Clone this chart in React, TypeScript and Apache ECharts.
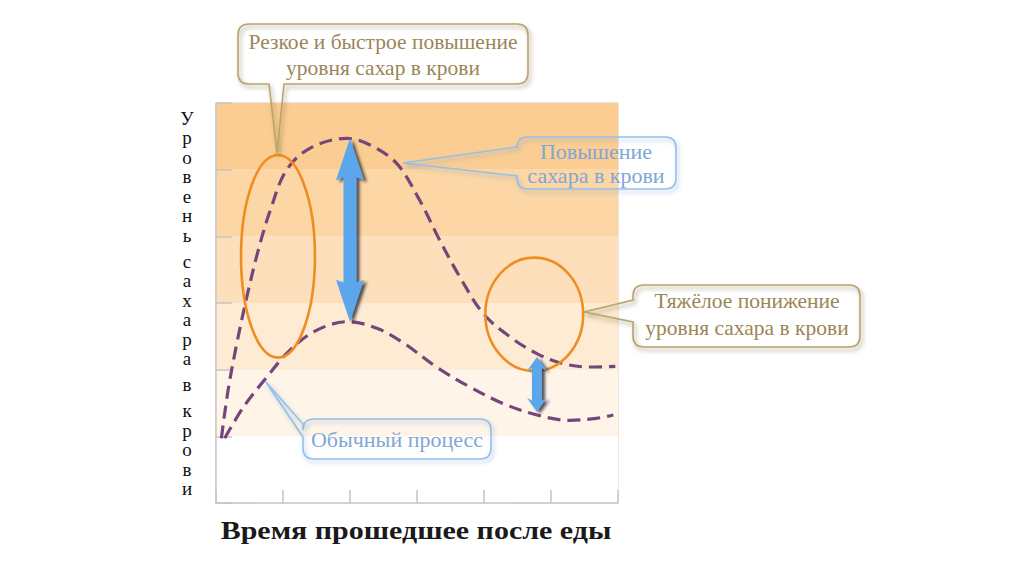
import React, { useEffect, useRef } from "react";
import * as echarts from "echarts";

// ---- data ----
const bandColors = ["#ffffff", "#fef4e7", "#fdebd3", "#fde0bb", "#fcd6a5", "#fbcd92"];
const fastX = [0.08, 0.18, 0.31, 0.46, 0.63, 0.81, 1.05, 1.4, 1.95, 2.3, 2.7, 3.04, 3.34, 3.64, 3.99, 4.39, 4.79, 5.18, 5.58, 5.96];
const fastY = [0.97, 1.69, 2.39, 3.09, 3.79, 4.39, 4.99, 5.32, 5.47, 5.37, 5.09, 4.54, 3.94, 3.39, 2.84, 2.49, 2.24, 2.09, 2.04, 2.05];
const normalX = [0.13, 0.41, 0.76, 1.1, 1.5, 1.97, 2.4, 2.8, 3.29, 3.79, 4.29, 4.79, 5.28, 5.68, 5.93];
const normalY = [0.97, 1.44, 1.89, 2.29, 2.59, 2.72, 2.62, 2.4, 2.04, 1.74, 1.49, 1.32, 1.24, 1.27, 1.32];
// ellipse: [cx, cy, rx, ry] in data units
const ellipses = [
  [0.925, 3.7, 0.552, 1.52],
  [4.75, 2.83, 0.73, 0.85],
];
// arrows: [x, yTop, yBottom]
const arrows = [
  [2.0, 5.47, 2.72],
  [4.79, 2.19, 1.37],
];
const arrowSizes = [
  { head: 42, headW: 28, shaft: 13 },
  { head: 14, headW: 20, shaft: 10 },
];
const yTitle = "Уровень сахара в крови";
const xTitle = "Время прошедшее после еды";
const calloutTexts = [
  "Резкое и быстрое повышение\nуровня сахар в крови",
  "Повышение\nсахара в крови",
  "Тяжёлое понижение\nуровня сахара в крови",
  "Обычный процесс",
];

// ---- callout shapes ----
function calloutPath(x: number, y: number, w: number, h: number, r: number, side: string, a: number, b: number, tx: number, ty: number) {
  const R = x + w, B = y + h;
  let d = `M${x + r} ${y}`;
  d += ` L${R - r} ${y} Q${R} ${y} ${R} ${y + r}`;
  d += ` L${R} ${B - r} Q${R} ${B} ${R - r} ${B}`;
  if (side === "bottom") d += ` L${b} ${B} L${tx} ${ty} L${a} ${B}`;
  d += ` L${x + r} ${B} Q${x} ${B} ${x} ${B - r}`;
  if (side === "left") d += ` L${x} ${b} L${tx} ${ty} L${x} ${a}`;
  d += ` L${x} ${y + r} Q${x} ${y} ${x + r} ${y} Z`;
  return d;
}
echarts.graphic.registerShape("callout1", echarts.graphic.extendPath(calloutPath(238, 24, 290, 60, 11, "bottom", 269, 284, 277, 153), {}));
echarts.graphic.registerShape("callout2", echarts.graphic.extendPath(calloutPath(517, 137, 159, 52, 11, "left", 147, 176, 403, 163), {}));
echarts.graphic.registerShape("callout3", echarts.graphic.extendPath(calloutPath(633, 285, 227, 62, 11, "left", 300, 322, 584, 312), {}));
echarts.graphic.registerShape("callout4", echarts.graphic.extendPath(calloutPath(303, 419, 188, 40, 11, "left", 424, 437, 266, 382), {}));

const serif = "Liberation Serif";

export default function App() {
  const ref = useRef<HTMLDivElement>(null);
  useEffect(() => {
    if (!ref.current) return;
    const chart = echarts.init(ref.current, undefined, { renderer: "svg" });

    const gold = { stroke: "#b9a46e", text: "#9a8656", shadow: "rgba(110,90,50,0.55)" };
    const blue = { stroke: "#94c0ea", text: "#7fa7d4", shadow: "rgba(90,140,200,0.45)" };
    const calloutStyle = (c: any) => ({
      fill: "none",
      stroke: c.stroke,
      lineWidth: 1.6,
      shadowBlur: 4,
      shadowOffsetX: 2,
      shadowOffsetY: 3,
      shadowColor: c.shadow,
    });

    // vertical y-title letters
    const letters: any[] = [];
    let ly = 118;
    for (const ch of yTitle) {
      if (ch === " ") { ly += 6.5; continue; }
      letters.push({
        type: "text",
        x: 187,
        y: ly,
        style: { text: ch, align: "center", verticalAlign: "middle", fontFamily: serif, fontSize: 19, fill: "#111111" },
      });
      ly += 19.5;
    }

    const textEl = (t: string, x: number, y: number, color: string, lh: number, fs: number) => ({
      type: "text",
      x,
      y,
      z: 100,
      style: { text: t, align: "center", verticalAlign: "middle", fontFamily: serif, fontSize: fs, lineHeight: lh, fill: color },
    });

    chart.setOption({
      animation: false,
      backgroundColor: "#ffffff",
      grid: { left: 216, right: 406, top: 103, bottom: 71, show: true, borderColor: "#cfcfcf", borderWidth: 1, backgroundColor: "transparent" },
      xAxis: {
        type: "value",
        min: 0,
        max: 6,
        interval: 1,
        axisLine: { show: true, lineStyle: { color: "#c8c8c8", width: 1.5 } },
        axisTick: { show: true, inside: true, length: 13, lineStyle: { color: "#c4c4c4", width: 1.5 } },
        axisLabel: { show: false },
        splitLine: { show: false },
      },
      yAxis: {
        type: "value",
        min: 0,
        max: 6,
        interval: 1,
        axisLine: { show: true, lineStyle: { color: "#c8c8c8", width: 1.5 } },
        axisTick: { show: true, inside: true, length: 16, lineStyle: { color: "#c4c4c4", width: 1.5 } },
        axisLabel: { show: false },
        splitLine: { show: false },
        splitArea: { show: true, areaStyle: { color: bandColors } },
      },
      series: [
        {
          type: "line",
          data: fastX.map((x, i) => [x, fastY[i]]),
          smooth: 0.35,
          symbol: "none",
          z: 3,
          lineStyle: { color: "#74477c", width: 3.2, type: [13, 7] },
        },
        {
          type: "line",
          data: normalX.map((x, i) => [x, normalY[i]]),
          smooth: 0.35,
          symbol: "none",
          z: 3,
          lineStyle: { color: "#74477c", width: 3.2, type: [13, 7] },
        },
        {
          type: "custom",
          z: 4,
          data: ellipses,
          renderItem: (params: any, api: any) => {
            const c = api.coord([api.value(0), api.value(1)]);
            const s = api.size([api.value(2), api.value(3)]);
            return {
              type: "ellipse",
              shape: { cx: c[0], cy: c[1], rx: s[0], ry: s[1] },
              style: { fill: "none", stroke: "#f08d22", lineWidth: 2.6 },
            };
          },
        },
        {
          type: "custom",
          z: 5,
          data: arrows,
          renderItem: (params: any, api: any) => {
            const p1 = api.coord([api.value(0), api.value(1)]);
            const p2 = api.coord([api.value(0), api.value(2)]);
            const sz = arrowSizes[params.dataIndex];
            const cx = p1[0], y1 = p1[1], y2 = p2[1];
            const hw = sz.headW / 2, sw = sz.shaft / 2, hl = sz.head;
            return {
              type: "polygon",
              shape: {
                points: [
                  [cx, y1], [cx + hw, y1 + hl], [cx + sw, y1 + hl - 3], [cx + sw, y2 - hl + 3], [cx + hw, y2 - hl],
                  [cx, y2], [cx - hw, y2 - hl], [cx - sw, y2 - hl + 3], [cx - sw, y1 + hl - 3], [cx - hw, y1 + hl],
                ],
              },
              style: { fill: "#5ca6ec", stroke: "none", shadowBlur: 3, shadowOffsetX: 3, shadowOffsetY: 2, shadowColor: "rgba(30,30,40,0.75)" },
            };
          },
        },
      ],
      graphic: [
        ...letters,
        {
          type: "text",
          x: 416,
          y: 530,
          scaleX: 1.2,
          style: { text: xTitle, align: "center", verticalAlign: "middle", fontFamily: serif, fontSize: 25, fontWeight: "bold", fill: "#1a1a1a" },
        },
        { type: "callout1", x: 0, y: 0, z: 90, style: calloutStyle(gold) },
        { type: "callout2", x: 0, y: 0, z: 90, style: calloutStyle(blue) },
        { type: "callout3", x: 0, y: 0, z: 90, style: calloutStyle(gold) },
        { type: "callout4", x: 0, y: 0, z: 90, style: calloutStyle(blue) },
        textEl(calloutTexts[0], 383, 55, gold.text, 26, 21.5),
        textEl(calloutTexts[1], 596, 163, blue.text, 24, 22),
        textEl(calloutTexts[2], 747, 314, gold.text, 27, 21.5),
        textEl(calloutTexts[3], 397, 439, blue.text, 24, 22),
      ],
    });
    return () => chart.dispose();
  }, []);
  return <div ref={ref} style={{ position: "fixed", left: 0, top: 0, width: 1024, height: 574 }} />;
}
